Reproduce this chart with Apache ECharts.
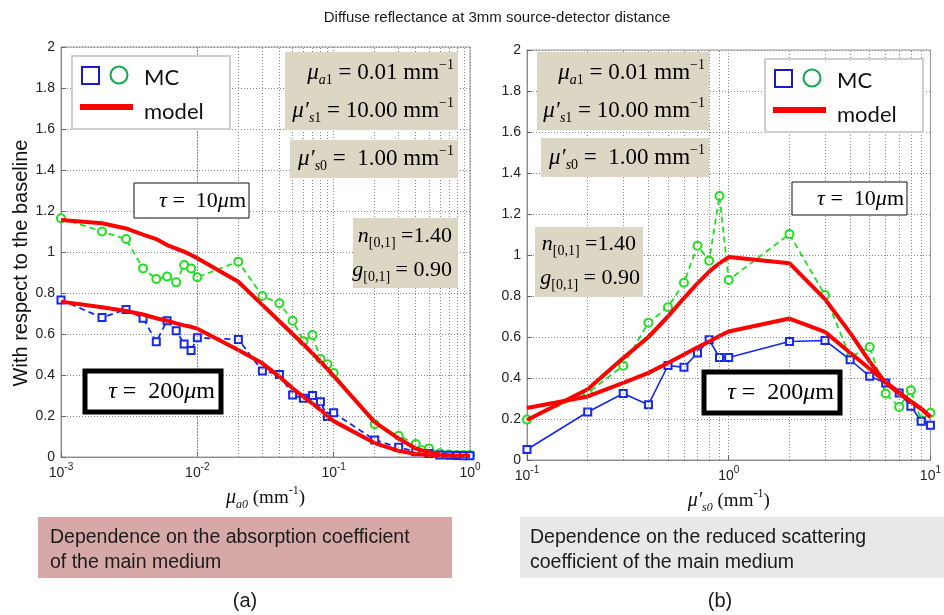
<!DOCTYPE html>
<html>
<head>
<meta charset="utf-8">
<script src="https://cdn.jsdelivr.net/npm/echarts@6/dist/echarts.min.js"></script>
<style>
html,body{margin:0;padding:0;background:#fff}
#c{width:944px;height:615px}
</style>
</head>
<body>
<div id="c"></div>
<script>
// ---- (a) dependence on the absorption coefficient of the main medium ----
const muA = [0.001,0.002,0.003,0.004,0.005,0.006,0.007,0.008,0.009,0.01,0.02,0.03,0.04,0.05,0.06,0.07,0.08,0.09,0.1,0.2,0.3,0.4,0.5,0.6,0.7,0.8,0.9,1];
const mcA_tau10  = [1.165,1.10,1.063,0.92,0.868,0.88,0.852,0.937,0.92,0.877,0.953,0.785,0.75,0.665,0.565,0.595,0.478,0.452,0.41,0.16,0.104,0.063,0.042,0.018,0.012,0.01,0.01,0.01];
const mcA_tau200 = [0.766,0.68,0.72,0.677,0.562,0.665,0.616,0.551,0.519,0.582,0.573,0.42,0.403,0.302,0.286,0.3,0.27,0.197,0.216,0.083,0.047,0.026,0.017,0.01,0.008,0.007,0.006,0.006];
const modelA_tau10  = [1.156,1.14,1.115,1.085,1.063,1.034,1.017,1.002,0.985,0.97,0.855,0.742,0.662,0.60,0.55,0.505,0.465,0.43,0.395,0.17,0.09,0.041,0.024,0.012,0.008,0.006,0.005,0.005];
const modelA_tau200 = [0.758,0.73,0.712,0.695,0.677,0.665,0.652,0.642,0.635,0.626,0.522,0.457,0.392,0.335,0.294,0.26,0.23,0.2,0.175,0.068,0.03,0.015,0.01,0.007,0.006,0.005,0.005,0.005];

// ---- (b) dependence on the reduced scattering coefficient of the main medium ----
const musB = [0.1,0.2,0.3,0.4,0.5,0.6,0.7,0.8,0.9,1,2,3,4,5,6,7,8,9,10];
const mcB_tau10  = [0.197,0.327,0.46,0.67,0.745,0.865,1.045,0.972,1.288,0.878,1.102,0.805,0.502,0.551,0.324,0.259,0.34,0.194,0.23];
const mcB_tau200 = [0.051,0.234,0.324,0.27,0.461,0.452,0.522,0.586,0.5,0.5,0.578,0.583,0.489,0.408,0.376,0.327,0.262,0.189,0.169];
const modelB_tau10  = [0.195,0.345,0.497,0.60,0.70,0.79,0.862,0.919,0.96,0.99,0.96,0.785,0.62,0.48,0.375,0.325,0.285,0.25,0.21];
const modelB_tau200 = [0.254,0.31,0.376,0.425,0.473,0.515,0.55,0.578,0.605,0.627,0.69,0.625,0.523,0.445,0.38,0.33,0.285,0.25,0.21];

// minor (2..9 per decade) grid positions for the two log axes
const minorA = [2,3,4,5,6,7,8,9].flatMap(k => [k*1e-3, k*1e-2, k*1e-1]);
const minorB = [2,3,4,5,6,7,8,9].flatMap(k => [k*1e-1, k]);

const pairs = (xs, ys) => xs.map((x, i) => [x, ys[i]]);

const SERIF = '"Liberation Serif","DejaVu Serif",serif';
const SANS = '"Liberation Sans",Arial,sans-serif';
const GREEN = '#1fe01f', BLUE = '#1428f0', RED = '#ff0000';
const TAN = '#dcd7c4';

const dotted = {color: '#8a8a8a', width: 1, type: [1, 2]};

function xAxisOf(gi, min, max, nameRich) {
  return {
    type: 'log', logBase: 10, gridIndex: gi, min, max,
    axisLine: {show: true, lineStyle: {color: '#8c8c8c'}},
    axisTick: {inside: true, length: 5, lineStyle: {color: '#666'}},
    splitLine: {show: true, lineStyle: dotted},
    axisLabel: {
      margin: 5, color: '#222',
      formatter: v => '{b|10}{e|' + Math.round(Math.log10(v)) + '}',
      rich: {
        b: {fontFamily: SANS, fontSize: 14, color: '#222', lineHeight: 22},
        e: {fontFamily: SANS, fontSize: 10, color: '#222', verticalAlign: 'top', lineHeight: 22}
      }
    },
    name: nameRich, nameLocation: 'middle', nameGap: 28,
    nameTextStyle: {
      rich: {
        i: {fontFamily: SERIF, fontStyle: 'italic', fontSize: 20, color: '#111', lineHeight: 26},
        r: {fontFamily: SERIF, fontSize: 19, color: '#111', lineHeight: 26},
        sb: {fontFamily: SERIF, fontStyle: 'italic', fontSize: 12, color: '#111', verticalAlign: 'bottom', lineHeight: 26},
        sp: {fontFamily: SERIF, fontSize: 12, color: '#111', verticalAlign: 'top', lineHeight: 26}
      }
    }
  };
}

function yAxisOf(gi, withName) {
  return {
    type: 'value', gridIndex: gi, min: 0, max: 2, interval: 0.2,
    axisLine: {show: true, lineStyle: {color: '#8c8c8c'}},
    axisTick: {inside: true, length: 5, lineStyle: {color: '#666'}},
    splitLine: {show: true, lineStyle: dotted},
    axisLabel: {fontFamily: SANS, fontSize: 14, color: '#222', margin: 6},
    name: withName ? 'With respect to the baseline' : '',
    nameLocation: 'middle', nameGap: 30, nameRotate: 90,
    nameTextStyle: {fontFamily: SANS, fontSize: 20, color: '#111', padding: [0, 0, 0, -22]}
  };
}

function minorLines(values) {
  return {
    silent: true, symbol: ['none', 'none'], animation: false,
    label: {show: false},
    lineStyle: dotted,
    data: values.map(v => ({xAxis: v}))
  };
}

function mcSeries(gi, xs, ys, color, symbol, dashed, minor) {
  const s = {
    type: 'line', xAxisIndex: gi, yAxisIndex: gi, data: pairs(xs, ys),
    symbol, symbolSize: symbol === 'emptyCircle' ? 8 : 7,
    lineStyle: {color, width: dashed ? 1.8 : 1.6, type: dashed ? [6, 4] : 'solid'},
    itemStyle: {color, borderColor: color, borderWidth: 1.5},
    z: 3
  };
  if (minor) s.markLine = minorLines(minor);
  return s;
}

function modelSeries(gi, xs, ys) {
  return {
    type: 'line', xAxisIndex: gi, yAxisIndex: gi, data: pairs(xs, ys),
    symbol: 'none', lineStyle: {color: RED, width: 4}, z: 4
  };
}

// ---- annotation helpers (boxes, legends, labels) ----
function mathStyles(size) {
  const s = Math.round(size * 0.62), lh = size + 6;
  return {
    i: {fontFamily: SERIF, fontStyle: 'italic', fontSize: size, color: '#111', lineHeight: lh},
    r: {fontFamily: SERIF, fontSize: size, color: '#111', lineHeight: lh},
    sb: {fontFamily: SERIF, fontStyle: 'italic', fontSize: s, color: '#111', verticalAlign: 'bottom', lineHeight: lh},
    sbr: {fontFamily: SERIF, fontSize: s, color: '#111', verticalAlign: 'bottom', lineHeight: lh},
    sp: {fontFamily: SERIF, fontSize: s, color: '#111', verticalAlign: 'top', lineHeight: lh}
  };
}
const mathRich = mathStyles(23);
const paramRich = mathStyles(22);

function rect(x, y, w, h, fill, stroke, lw) {
  return {type: 'rect', shape: {x, y, width: w, height: h}, z: 10,
    style: {fill, stroke: stroke || null, lineWidth: lw || 0}};
}
function rtext(x, y, text, rich, align) {
  return {type: 'text', x, y, z: 11,
    style: {text, rich: rich || mathRich, align: align || 'right', verticalAlign: 'middle'}};
}
function ptext(x, y, text, size, align) {
  return {type: 'text', x, y, z: 11,
    style: {text, fontFamily: SANS, fontSize: size, fill: '#1a1a1a', align: align || 'left', verticalAlign: 'middle'}};
}

const L1 = '{i|μ}{sb|a}{sbr|1}{r| = 0.01 mm}{sp|−1}';
const L2 = '{i|μ′}{sb|s}{sbr|1}{r| = 10.00 mm}{sp|−1}';
const L3 = '{i|μ′}{sb|s}{sbr|0}{r| =  1.00 mm}{sp|−1}';
const N1 = '{i|n}{sbr|[0,1]}{r| =1.40}';
const G1 = '{i|g}{sbr|[0,1]}{r| = 0.90}';
const T10 = '{i|τ}{r| =  10}{i|μ}{r|m}';
const T200 = '{i|τ}{r| =  200}{i|μ}{r|m}';

const tauRich = {
  i: {fontFamily: SERIF, fontStyle: 'italic', fontSize: 22, color: '#111'},
  r: {fontFamily: SERIF, fontSize: 22, color: '#111'}
};
const tauRich2 = {
  i: {fontFamily: SERIF, fontStyle: 'italic', fontSize: 24, color: '#111'},
  r: {fontFamily: SERIF, fontSize: 24, color: '#111'}
};

function legend(x, y) {
  const LG = '"Lato","Open Sans",sans-serif';
  return [
    rect(x, y, 158, 73, '#fff', '#cfcfcf', 2),
    {type: 'rect', z: 11, shape: {x: x + 10, y: y + 11, width: 17, height: 17}, style: {fill: 'none', stroke: '#1a1acc', lineWidth: 2}},
    {type: 'circle', z: 11, shape: {cx: x + 47, cy: y + 19, r: 8.5}, style: {fill: 'none', stroke: '#10a848', lineWidth: 2}},
    {type: 'text', z: 11, x: x + 72, y: y + 22, style: {text: 'MC', fontFamily: LG, fontSize: 22, fill: '#111', verticalAlign: 'middle'}},
    {type: 'line', z: 11, shape: {x1: x + 8, y1: y + 51, x2: x + 61, y2: y + 51}, style: {stroke: RED, lineWidth: 6}},
    {type: 'text', z: 11, x: x + 72, y: y + 56, style: {text: 'model', fontFamily: LG, fontSize: 22, fill: '#111', verticalAlign: 'middle'}}
  ];
}

const graphics = [
  // figure title
  {type: 'text', x: 497, y: 18, z: 11, style: {text: 'Diffuse reflectance at 3mm source-detector distance', fontFamily: SANS, fontSize: 15, fill: '#1a1a1a', align: 'center', verticalAlign: 'middle'}},

  // panel (a) annotations
  rect(285, 52, 173, 78, TAN),
  rtext(454, 73, L1), rtext(454, 111, L2),
  rect(290, 140, 168, 38, TAN),
  rtext(454, 159, L3),
  rect(353, 218, 105, 70, TAN),
  rtext(452, 236, N1, paramRich), rtext(452, 270, G1, paramRich),
  ...legend(72, 56),
  rect(134, 183, 115, 35, '#fff', '#111', 1),
  rtext(246, 201, T10, tauRich),
  rect(85, 371, 136, 41, '#fff', '#000', 5),
  rtext(215, 392, T200, tauRich2),

  // panel (b) annotations
  rect(537, 52, 172, 78, TAN),
  rtext(705, 73, L1), rtext(705, 111, L2),
  rect(541, 138, 168, 39, TAN),
  rtext(705, 158, L3),
  rect(535, 227, 108, 70, TAN),
  rtext(636, 244, N1, paramRich), rtext(640, 278, G1, paramRich),
  ...legend(765, 59),
  rect(792, 182, 115, 33, '#fff', '#111', 1),
  rtext(904, 199, T10, tauRich),
  rect(704, 372, 136, 41, '#fff', '#000', 5),
  rtext(834, 393, T200, tauRich2),

  // captions
  rect(38, 517, 414, 61, '#d6a8a8'),
  ptext(50, 538, 'Dependence on the absorption coefficient', 19.5),
  ptext(50, 563, 'of the main medium', 19.5),
  rect(520, 517, 424, 61, '#e8e8e8'),
  ptext(530, 538, 'Dependence on the reduced scattering', 19.5),
  ptext(530, 563, 'coefficient of the main medium', 19.5),
  ptext(245, 601, '(a)', 20, 'center'),
  ptext(720, 601, '(b)', 20, 'center')
];

const chart = echarts.init(document.getElementById('c'), null, {renderer: 'canvas'});
chart.setOption({
  animation: false,
  backgroundColor: '#fff',
  grid: [
    {left: 61, top: 47, width: 409, height: 410, show: true, borderColor: '#9a9a9a', borderWidth: 1, backgroundColor: '#fff'},
    {left: 527, top: 50, width: 408, height: 410, show: true, borderColor: '#9a9a9a', borderWidth: 1, backgroundColor: '#fff'}
  ],
  xAxis: [
    xAxisOf(0, 0.001, 1, '{i|μ}{sb|a0}{r| (mm}{sp|-1}{r|)}'),
    xAxisOf(1, 0.1, 10, '{i|μ′}{sb|s0}{r| (mm}{sp|-1}{r|)}')
  ],
  yAxis: [yAxisOf(0, true), yAxisOf(1, false)],
  series: [
    mcSeries(0, muA, mcA_tau10, GREEN, 'emptyCircle', true, minorA),
    mcSeries(0, muA, mcA_tau200, BLUE, 'emptyRect', true),
    modelSeries(0, muA, modelA_tau10),
    modelSeries(0, muA, modelA_tau200),
    mcSeries(1, musB, mcB_tau10, GREEN, 'emptyCircle', true, minorB),
    mcSeries(1, musB, mcB_tau200, BLUE, 'emptyRect', false),
    modelSeries(1, musB, modelB_tau10),
    modelSeries(1, musB, modelB_tau200)
  ],
  graphic: graphics
});
</script>
</body>
</html>
